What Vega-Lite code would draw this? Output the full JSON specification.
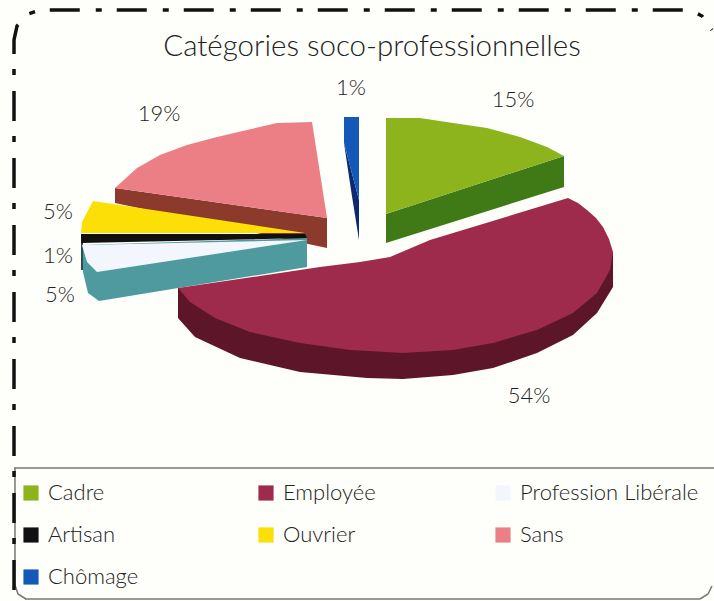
{"$schema":"https://vega.github.io/schema/vega-lite/v6.json","width":714,"height":601,"padding":0,"autosize":{"type":"none"},"background":"#fefefb","view":{"stroke":null},
"datasets":{"faces":[
{"part":"Employée côté","kind":"side","i":0,"x":178,"y":288},{"part":"Employée côté","kind":"side","i":1,"x":178,"y":318},{"part":"Employée côté","kind":"side","i":2,"x":195,"y":337},{"part":"Employée côté","kind":"side","i":3,"x":240,"y":358},{"part":"Employée côté","kind":"side","i":4,"x":300,"y":372},{"part":"Employée côté","kind":"side","i":5,"x":367,"y":378},{"part":"Employée côté","kind":"side","i":6,"x":403,"y":379},{"part":"Employée côté","kind":"side","i":7,"x":453,"y":375},{"part":"Employée côté","kind":"side","i":8,"x":493,"y":368},{"part":"Employée côté","kind":"side","i":9,"x":537,"y":353},{"part":"Employée côté","kind":"side","i":10,"x":573,"y":335},{"part":"Employée côté","kind":"side","i":11,"x":597,"y":313},{"part":"Employée côté","kind":"side","i":12,"x":613,"y":287},{"part":"Employée côté","kind":"side","i":13,"x":613,"y":252},{"part":"Employée côté","kind":"side","i":14,"x":400,"y":300},
{"part":"Cadre côté","kind":"side","i":0,"x":386,"y":214},{"part":"Cadre côté","kind":"side","i":1,"x":564,"y":156},{"part":"Cadre côté","kind":"side","i":2,"x":564,"y":187},{"part":"Cadre côté","kind":"side","i":3,"x":386,"y":243},
{"part":"Chômage côté","kind":"side","i":0,"x":344,"y":143},{"part":"Chômage côté","kind":"side","i":1,"x":359,"y":200},{"part":"Chômage côté","kind":"side","i":2,"x":359,"y":240},{"part":"Chômage côté","kind":"side","i":3,"x":351,"y":190},
{"part":"Sans côté","kind":"side","i":0,"x":115,"y":188},{"part":"Sans côté","kind":"side","i":1,"x":327,"y":218},{"part":"Sans côté","kind":"side","i":2,"x":327,"y":248},{"part":"Sans côté","kind":"side","i":3,"x":115,"y":203},
{"part":"Profession Libérale côté","kind":"side","i":0,"x":82,"y":245},{"part":"Profession Libérale côté","kind":"side","i":1,"x":307,"y":238},{"part":"Profession Libérale côté","kind":"side","i":2,"x":307,"y":267},{"part":"Profession Libérale côté","kind":"side","i":3,"x":99,"y":301},{"part":"Profession Libérale côté","kind":"side","i":4,"x":88,"y":293},{"part":"Profession Libérale côté","kind":"side","i":5,"x":83,"y":272},
{"part":"Artisan côté","kind":"side","i":0,"x":81,"y":243},{"part":"Artisan côté","kind":"side","i":1,"x":83,"y":243},{"part":"Artisan côté","kind":"side","i":2,"x":83,"y":270},{"part":"Artisan côté","kind":"side","i":3,"x":81,"y":270},
{"part":"Cadre","kind":"top","i":0,"x":386,"y":118},{"part":"Cadre","kind":"top","i":1,"x":420,"y":118},{"part":"Cadre","kind":"top","i":2,"x":453,"y":123},{"part":"Cadre","kind":"top","i":3,"x":487,"y":128},{"part":"Cadre","kind":"top","i":4,"x":520,"y":137},{"part":"Cadre","kind":"top","i":5,"x":547,"y":147},{"part":"Cadre","kind":"top","i":6,"x":564,"y":156},{"part":"Cadre","kind":"top","i":7,"x":386,"y":214},
{"part":"Employée","kind":"top","i":0,"x":178,"y":288},{"part":"Employée","kind":"top","i":1,"x":260,"y":276},{"part":"Employée","kind":"top","i":2,"x":320,"y":267},{"part":"Employée","kind":"top","i":3,"x":360,"y":262},{"part":"Employée","kind":"top","i":4,"x":390,"y":257},{"part":"Employée","kind":"top","i":5,"x":430,"y":240},{"part":"Employée","kind":"top","i":6,"x":568,"y":198},{"part":"Employée","kind":"top","i":7,"x":578,"y":203},{"part":"Employée","kind":"top","i":8,"x":587,"y":210},{"part":"Employée","kind":"top","i":9,"x":596,"y":218},{"part":"Employée","kind":"top","i":10,"x":603,"y":227},{"part":"Employée","kind":"top","i":11,"x":609,"y":239},{"part":"Employée","kind":"top","i":12,"x":613,"y":252},{"part":"Employée","kind":"top","i":13,"x":610,"y":270},{"part":"Employée","kind":"top","i":14,"x":597,"y":293},{"part":"Employée","kind":"top","i":15,"x":573,"y":313},{"part":"Employée","kind":"top","i":16,"x":537,"y":330},{"part":"Employée","kind":"top","i":17,"x":493,"y":343},{"part":"Employée","kind":"top","i":18,"x":453,"y":350},{"part":"Employée","kind":"top","i":19,"x":403,"y":353},{"part":"Employée","kind":"top","i":20,"x":350,"y":350},{"part":"Employée","kind":"top","i":21,"x":300,"y":343},{"part":"Employée","kind":"top","i":22,"x":250,"y":332},{"part":"Employée","kind":"top","i":23,"x":215,"y":318},{"part":"Employée","kind":"top","i":24,"x":190,"y":302},
{"part":"Profession Libérale","kind":"top","i":0,"x":82,"y":245},{"part":"Profession Libérale","kind":"top","i":1,"x":307,"y":240},{"part":"Profession Libérale","kind":"top","i":2,"x":97,"y":272},{"part":"Profession Libérale","kind":"top","i":3,"x":87,"y":262},
{"part":"Artisan","kind":"top","i":0,"x":81,"y":234},{"part":"Artisan","kind":"top","i":1,"x":305,"y":234},{"part":"Artisan","kind":"top","i":2,"x":307,"y":238},{"part":"Artisan","kind":"top","i":3,"x":81,"y":243},
{"part":"Ouvrier","kind":"top","i":0,"x":93,"y":201},{"part":"Ouvrier","kind":"top","i":1,"x":305,"y":233},{"part":"Ouvrier","kind":"top","i":2,"x":81,"y":233},{"part":"Ouvrier","kind":"top","i":3,"x":82,"y":222},
{"part":"Sans","kind":"top","i":0,"x":312,"y":122},{"part":"Sans","kind":"top","i":1,"x":277,"y":123},{"part":"Sans","kind":"top","i":2,"x":247,"y":130},{"part":"Sans","kind":"top","i":3,"x":217,"y":137},{"part":"Sans","kind":"top","i":4,"x":187,"y":145},{"part":"Sans","kind":"top","i":5,"x":160,"y":155},{"part":"Sans","kind":"top","i":6,"x":137,"y":168},{"part":"Sans","kind":"top","i":7,"x":115,"y":188},{"part":"Sans","kind":"top","i":8,"x":327,"y":218},
{"part":"Chômage","kind":"top","i":0,"x":344,"y":117},{"part":"Chômage","kind":"top","i":1,"x":359,"y":117},{"part":"Chômage","kind":"top","i":2,"x":359,"y":200},{"part":"Chômage","kind":"top","i":3,"x":344,"y":143}
],
"labels":[{"t":"15%","x":513,"y":100},{"t":"54%","x":529,"y":396},{"t":"1%","x":351,"y":88},{"t":"19%","x":159,"y":114},{"t":"5%","x":58,"y":212},{"t":"1%","x":58,"y":256},{"t":"5%","x":60,"y":295}],
"frameTop":[{"i":0,"x":14,"y":590},{"i":1,"x":14,"y":40},{"i":2,"x":17,"y":26},{"i":3,"x":28,"y":14},{"i":4,"x":40,"y":10},{"i":5,"x":690,"y":10},{"i":6,"x":702,"y":16},{"i":7,"x":712,"y":30}],
"frameThin":[{"g":"a","i":0,"x":14,"y":468},{"g":"a","i":1,"x":714,"y":468},{"g":"b","i":0,"x":25,"y":599},{"g":"b","i":1,"x":700,"y":599},{"g":"c","i":0,"x":15,"y":468},{"g":"c","i":1,"x":15,"y":585},{"g":"c","i":2,"x":18,"y":594},{"g":"c","i":3,"x":26,"y":599},{"g":"d","i":0,"x":700,"y":599},{"g":"d","i":1,"x":708,"y":594},{"g":"d","i":2,"x":712,"y":586}]},
"layer":[
{"data":{"name":"frameThin"},"mark":{"type":"line","stroke":"#777","strokeWidth":1.5},"encoding":{"x":{"field":"x","type":"quantitative","scale":{"domain":[0,714],"nice":false},"axis":null},"y":{"field":"y","type":"quantitative","scale":{"domain":[601,0],"nice":false},"axis":null},"detail":{"field":"g"},"order":{"field":"i"}}},
{"data":{"name":"frameTop"},"mark":{"type":"line","stroke":"#111","strokeWidth":3.5,"strokeDash":[30,16,6,15]},"encoding":{"x":{"field":"x","type":"quantitative"},"y":{"field":"y","type":"quantitative"},"order":{"field":"i"}}},
{"data":{"name":"faces"},"transform":[{"filter":"datum.kind==='side'"}],"mark":{"type":"line","filled":true,"strokeWidth":0},"encoding":{"x":{"field":"x","type":"quantitative"},"y":{"field":"y","type":"quantitative"},"order":{"field":"i"},"color":{"field":"part","type":"nominal","scale":{"domain":["Cadre","Employée","Profession Libérale","Artisan","Ouvrier","Sans","Chômage","Cadre côté","Employée côté","Profession Libérale côté","Artisan côté","Sans côté","Chômage côté"],"range":["#8db41c","#9e2a4c","#f3f6fc","#111111","#fbdf06","#ec7f85","#1459b8","#3f7a16","#5c1529","#4f9a9e","#24504f","#8c3a2c","#0c2a70"]},"legend":{"values":["Cadre","Artisan","Sans","Employée","Ouvrier","Chômage","Profession Libérale"],"title":null,"orient":"none","legendX":20,"legendY":482,"columns":3,"columnPadding":116,"rowPadding":20,"symbolType":"square","symbolSize":230,"symbolStrokeWidth":0,"labelFont":"Lato","labelFontSize":22,"labelFontWeight":300,"labelColor":"#222","labelLimit":260,"labelOffset":6,"gridAlign":"each"}}}},
{"data":{"name":"faces"},"transform":[{"filter":"datum.kind==='top'"}],"mark":{"type":"line","filled":true,"strokeWidth":0},"encoding":{"x":{"field":"x","type":"quantitative"},"y":{"field":"y","type":"quantitative"},"order":{"field":"i"},"color":{"field":"part","type":"nominal"}}},
{"data":{"name":"labels"},"mark":{"type":"text","font":"Lato","fontSize":22,"fontWeight":300,"color":"#222"},"encoding":{"x":{"field":"x","type":"quantitative"},"y":{"field":"y","type":"quantitative"},"text":{"field":"t"}}},
{"data":{"values":[{"t":"Catégories soco-professionnelles","x":372,"y":47}]},"mark":{"type":"text","font":"Lato","fontSize":29.5,"fontWeight":300,"color":"#222"},"encoding":{"x":{"field":"x","type":"quantitative"},"y":{"field":"y","type":"quantitative"},"text":{"field":"t"}}}
]}
